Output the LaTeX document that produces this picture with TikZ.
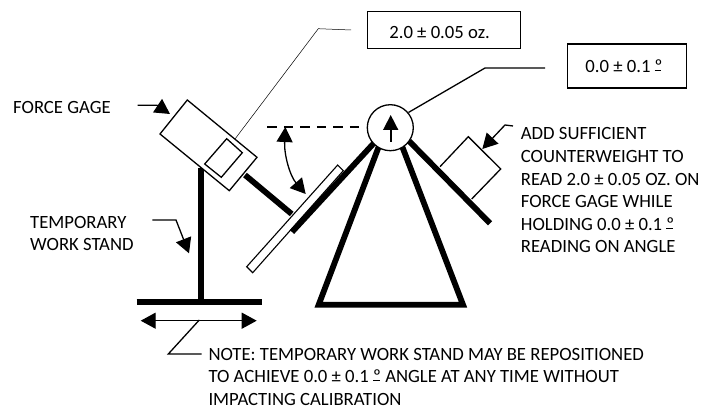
\documentclass[tikz,border=0pt]{standalone}
\usepackage{fontspec}
\setmainfont{Carlito}
\usetikzlibrary{arrows.meta}
\newcommand{\labelsize}{\fontsize{18.7}{22.6}\selectfont}
\newcommand{\ordmark}{\rlap{\rule[0.09em]{0.36em}{0.055em}}º}

\begin{document}
\begin{tikzpicture}[x=1pt,y=-1pt,
    >={Triangle[black,length=15pt,width=16pt]},
    every node/.style={font=\labelsize,inner sep=0pt},
    note/.style={align=left,anchor=north west},
    valuebox/.style={draw=black},
    bar/.style={draw=black,line width=5.8pt},
    outline/.style={draw=black,fill=white,line width=1.3pt},
    leader/.style={draw=black,line width=1.3pt}]
    \useasboundingbox (0,0) rectangle (702,409);

    % stand and force gage
    \draw[bar] (201,168) -- (201,302);
    \draw[bar] (136.7,302) -- (262,302);
    \draw[bar] (245,175) -- (291.7,214);
    \draw[outline] (187.3,100) -- (160,134) -- (229.3,190.7) -- (257,157.3) -- cycle;
    \draw[outline] (226.7,138.7) -- (204.7,164) -- (221.3,177.3) -- (242.3,152.7) -- cycle;

    % counterweight
    \draw[outline] (440,166.7) -- (468.3,136.7) -- (500.7,169) -- (471.7,199);

    % frame
    \draw[bar,line join=miter] (379,146) -- (318.7,304.7) -- (463,304.7) -- (402,146);
    \draw[outline,line width=1.1pt] (246.7,266.7) -- (252.7,272.7) -- (343.3,170.7) -- (337.7,165) -- cycle;
    \draw[bar] (374,143) -- (292,232);
    \draw[bar] (409,141) -- (490,223.3);
    \node[circle,draw=black,fill=white,line width=1.3pt,minimum size=46pt] (dial) at (390.3,127.7) {};
    \coordinate (dialtop) at (390.7,115);
    \coordinate (dialtail) at (390.7,141.7);
    \draw[leader,line width=1.6pt,{Triangle[black,length=15pt,width=15pt]}-] (dialtop) -- (dialtail);

    % boxes
    \node[valuebox,line width=0.7pt,minimum width=153pt,minimum height=36.6pt] (weightbox) at (444,30) {};
    \node[valuebox,line width=1.3pt,minimum width=119pt,minimum height=44pt] (anglebox) at (627,66) {};
    \node (weighttext) at (439.6,33) {2.0 ± 0.05 oz.};
    \node (angletext) at (624,66.5) {0.0 ± 0.1 \ordmark};
    \coordinate (weightend) at (351,30);
    \coordinate (angleend) at (545,68);
    \draw[line width=0.5pt] (235,139) -- (318.3,28.7) -- (weightend);
    \draw[leader] (dial.40) -- (485,68) -- (angleend);

    % angle
    \coordinate (levelstart) at (267.3,126.7);
    \coordinate (levelend) at (360,126.7);
    \draw[black,line width=1.7pt,dash pattern=on 9.5pt off 7pt] (levelstart) -- (levelend);
    \coordinate (angletop) at (285.3,127);
    \coordinate (anglelow) at (305.7,194);
    \draw[leader,<->] (angletop) .. controls (284,155) and (290,176) .. (anglelow);

    % labels
    \node[note] (gagelabel) at (13,101) {FORCE GAGE};
    \node[note] (standlabel) at (30,216) {TEMPORARY\\WORK STAND};
    \node[note] (addlabel) at (520.7,127.5) {ADD SUFFICIENT\\COUNTERWEIGHT TO\\READ 2.0 ± 0.05 OZ. ON\\FORCE GAGE WHILE\\HOLDING 0.0 ± 0.1 \ordmark\\READING ON ANGLE};
    \node[note] (notelabel) at (208.3,348) {NOTE: TEMPORARY WORK STAND MAY BE REPOSITIONED\\TO ACHIEVE 0.0 ± 0.1 \ordmark{} ANGLE AT ANY TIME WITHOUT\\IMPACTING CALIBRATION};

    % label arrows
    \coordinate (gagestart) at (137.7,105.3);
    \coordinate (gagetip) at (170,114);
    \draw[leader,->] (gagestart) -- (157,105.3) -- (gagetip);
    \coordinate (standstart) at (152.3,220);
    \coordinate (standtip) at (189,253.3);
    \draw[leader,->] (standstart) -- (176,220) -- (standtip);
    \coordinate (addstart) at (513,126);
    \coordinate (addtip) at (482.3,149);
    \draw[leader,->] (addstart) -- (505,125) -- (addtip);

    % base travel
    \coordinate (travelleft) at (140.7,320.7);
    \coordinate (travelright) at (256.7,320.7);
    \draw[leader,<->] (travelleft) -- (travelright);
    \coordinate (notestart) at (199.3,320);
    \coordinate (noteend) at (201.7,354);
    \draw[leader] (notestart) -- (168.3,354) -- (noteend);
\end{tikzpicture}
\end{document}
